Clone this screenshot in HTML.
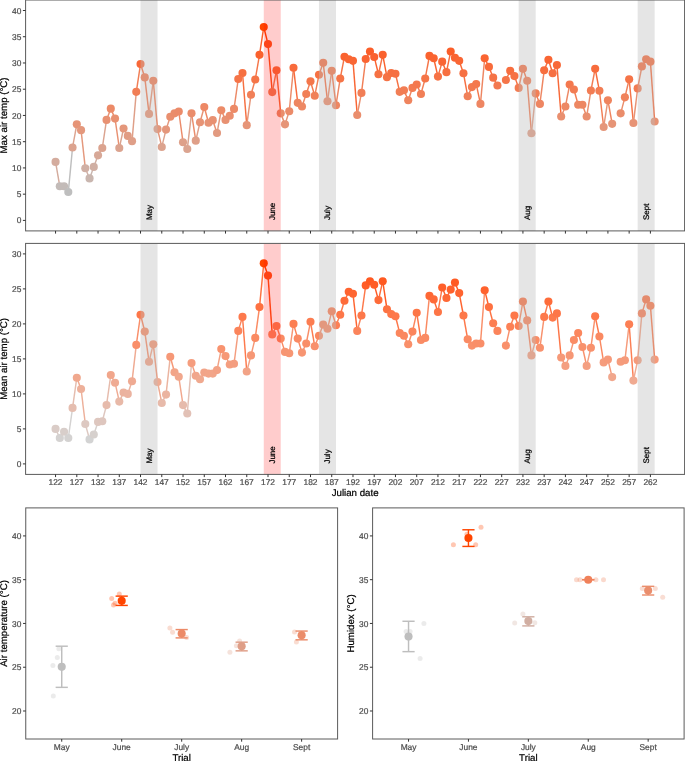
<!DOCTYPE html>
<html><head><meta charset="utf-8"><style>html,body{margin:0;padding:0;background:#fff;}svg{display:block;will-change:transform;text-rendering:geometricPrecision;}text[fill="#000"]{stroke:#000;stroke-width:.22px}text[fill="#4d4d4d"]{stroke:#4d4d4d;stroke-width:.22px}</style></head><body>
<svg width="685" height="761" viewBox="0 0 685 761" font-family="'Liberation Sans', sans-serif">
<rect x="0" y="0" width="685" height="761" fill="#fff"/>
<clipPath id="c0"><rect x="25.6" y="0" width="659" height="230.9"/></clipPath>
<g clip-path="url(#c0)">
<line x1="55.55" y1="161.89" x2="59.8" y2="186.29" stroke="#d4ac9e" stroke-width="1.45"/>
<line x1="59.8" y1="186.29" x2="64.05" y2="186.29" stroke="#c3bbb8" stroke-width="1.45"/>
<line x1="64.05" y1="186.29" x2="68.3" y2="192.07" stroke="#c3bbb8" stroke-width="1.45"/>
<line x1="68.3" y1="192.07" x2="72.55" y2="147.46" stroke="#bebebe" stroke-width="1.45"/>
<line x1="72.55" y1="147.46" x2="76.8" y2="124.37" stroke="#dca38f" stroke-width="1.45"/>
<line x1="76.8" y1="124.37" x2="81.05" y2="130.14" stroke="#e69477" stroke-width="1.45"/>
<line x1="81.05" y1="130.14" x2="85.3" y2="168.19" stroke="#e4987d" stroke-width="1.45"/>
<line x1="85.3" y1="168.19" x2="89.55" y2="178.42" stroke="#d0b0a5" stroke-width="1.45"/>
<line x1="89.55" y1="178.42" x2="93.79" y2="166.88" stroke="#c9b6af" stroke-width="1.45"/>
<line x1="93.79" y1="166.88" x2="98.04" y2="155.33" stroke="#d0afa3" stroke-width="1.45"/>
<line x1="98.04" y1="155.33" x2="102.29" y2="147.99" stroke="#d7a897" stroke-width="1.45"/>
<line x1="102.29" y1="147.99" x2="106.54" y2="119.91" stroke="#dba38f" stroke-width="1.45"/>
<line x1="106.54" y1="119.91" x2="110.79" y2="108.63" stroke="#e89172" stroke-width="1.45"/>
<line x1="110.79" y1="108.63" x2="115.04" y2="118.6" stroke="#ec8a67" stroke-width="1.45"/>
<line x1="115.04" y1="118.6" x2="119.29" y2="147.99" stroke="#e89071" stroke-width="1.45"/>
<line x1="119.29" y1="147.99" x2="123.54" y2="128.57" stroke="#dba38f" stroke-width="1.45"/>
<line x1="123.54" y1="128.57" x2="127.79" y2="135.92" stroke="#e4977b" stroke-width="1.45"/>
<line x1="127.79" y1="135.92" x2="132.03" y2="141.16" stroke="#e19c83" stroke-width="1.45"/>
<line x1="132.03" y1="141.16" x2="136.28" y2="91.84" stroke="#df9f88" stroke-width="1.45"/>
<line x1="136.28" y1="91.84" x2="140.53" y2="64.02" stroke="#f17e55" stroke-width="1.45"/>
<line x1="140.53" y1="64.02" x2="144.78" y2="77.4" stroke="#f86838" stroke-width="1.45"/>
<line x1="144.78" y1="77.4" x2="149.03" y2="113.88" stroke="#f57346" stroke-width="1.45"/>
<line x1="149.03" y1="113.88" x2="153.28" y2="80.81" stroke="#ea8d6c" stroke-width="1.45"/>
<line x1="153.28" y1="80.81" x2="157.53" y2="129.09" stroke="#f4764a" stroke-width="1.45"/>
<line x1="157.53" y1="129.09" x2="161.78" y2="146.94" stroke="#e4977c" stroke-width="1.45"/>
<line x1="161.78" y1="146.94" x2="166.03" y2="129.62" stroke="#dca38e" stroke-width="1.45"/>
<line x1="166.03" y1="129.62" x2="170.27" y2="116.76" stroke="#e4977c" stroke-width="1.45"/>
<line x1="170.27" y1="116.76" x2="174.52" y2="113.35" stroke="#e98f6f" stroke-width="1.45"/>
<line x1="174.52" y1="113.35" x2="178.77" y2="111.51" stroke="#ea8d6b" stroke-width="1.45"/>
<line x1="178.77" y1="111.51" x2="183.02" y2="142.21" stroke="#eb8b6a" stroke-width="1.45"/>
<line x1="183.02" y1="142.21" x2="187.27" y2="149.04" stroke="#dea089" stroke-width="1.45"/>
<line x1="187.27" y1="149.04" x2="191.52" y2="113.35" stroke="#dba490" stroke-width="1.45"/>
<line x1="191.52" y1="113.35" x2="195.77" y2="140.64" stroke="#ea8d6b" stroke-width="1.45"/>
<line x1="195.77" y1="140.64" x2="200.02" y2="122.27" stroke="#df9f88" stroke-width="1.45"/>
<line x1="200.02" y1="122.27" x2="204.27" y2="107.05" stroke="#e79375" stroke-width="1.45"/>
<line x1="204.27" y1="107.05" x2="208.51" y2="122.8" stroke="#ed8865" stroke-width="1.45"/>
<line x1="208.51" y1="122.8" x2="212.76" y2="120.17" stroke="#e79375" stroke-width="1.45"/>
<line x1="212.76" y1="120.17" x2="217.01" y2="133.03" stroke="#e89172" stroke-width="1.45"/>
<line x1="217.01" y1="133.03" x2="221.26" y2="110.2" stroke="#e29a80" stroke-width="1.45"/>
<line x1="221.26" y1="110.2" x2="225.51" y2="119.91" stroke="#ec8b68" stroke-width="1.45"/>
<line x1="225.51" y1="119.91" x2="229.76" y2="115.71" stroke="#e89172" stroke-width="1.45"/>
<line x1="229.76" y1="115.71" x2="234.01" y2="108.89" stroke="#ea8e6e" stroke-width="1.45"/>
<line x1="234.01" y1="108.89" x2="238.26" y2="78.98" stroke="#ec8a67" stroke-width="1.45"/>
<line x1="238.26" y1="78.98" x2="242.5" y2="72.94" stroke="#f57448" stroke-width="1.45"/>
<line x1="242.5" y1="72.94" x2="246.75" y2="125.16" stroke="#f67041" stroke-width="1.45"/>
<line x1="246.75" y1="125.16" x2="251" y2="94.72" stroke="#e69578" stroke-width="1.45"/>
<line x1="251" y1="94.72" x2="255.25" y2="79.5" stroke="#f18058" stroke-width="1.45"/>
<line x1="255.25" y1="79.5" x2="259.5" y2="54.84" stroke="#f57548" stroke-width="1.45"/>
<line x1="259.5" y1="54.84" x2="263.75" y2="27.03" stroke="#fa612d" stroke-width="1.45"/>
<line x1="263.75" y1="27.03" x2="268" y2="44.08" stroke="#ff4500" stroke-width="1.45"/>
<line x1="268" y1="44.08" x2="272.25" y2="92.1" stroke="#fc5720" stroke-width="1.45"/>
<line x1="272.25" y1="92.1" x2="276.5" y2="70.32" stroke="#f17e55" stroke-width="1.45"/>
<line x1="276.5" y1="70.32" x2="280.74" y2="113.35" stroke="#f76e3e" stroke-width="1.45"/>
<line x1="280.74" y1="113.35" x2="284.99" y2="124.37" stroke="#ea8d6b" stroke-width="1.45"/>
<line x1="284.99" y1="124.37" x2="289.24" y2="111.25" stroke="#e69477" stroke-width="1.45"/>
<line x1="289.24" y1="111.25" x2="293.49" y2="67.7" stroke="#eb8b69" stroke-width="1.45"/>
<line x1="293.49" y1="67.7" x2="297.74" y2="102.86" stroke="#f86b3c" stroke-width="1.45"/>
<line x1="297.74" y1="102.86" x2="301.99" y2="106.53" stroke="#ee8661" stroke-width="1.45"/>
<line x1="301.99" y1="106.53" x2="306.24" y2="93.93" stroke="#ed8864" stroke-width="1.45"/>
<line x1="306.24" y1="93.93" x2="310.49" y2="81.34" stroke="#f17f57" stroke-width="1.45"/>
<line x1="310.49" y1="81.34" x2="314.74" y2="95.77" stroke="#f4764a" stroke-width="1.45"/>
<line x1="314.74" y1="95.77" x2="318.98" y2="74.78" stroke="#f08159" stroke-width="1.45"/>
<line x1="318.98" y1="74.78" x2="323.23" y2="62.71" stroke="#f67143" stroke-width="1.45"/>
<line x1="323.23" y1="62.71" x2="327.48" y2="101.28" stroke="#f96736" stroke-width="1.45"/>
<line x1="327.48" y1="101.28" x2="331.73" y2="70.84" stroke="#ef845f" stroke-width="1.45"/>
<line x1="331.73" y1="70.84" x2="335.98" y2="105.22" stroke="#f76e3f" stroke-width="1.45"/>
<line x1="335.98" y1="105.22" x2="340.23" y2="78.45" stroke="#ed8763" stroke-width="1.45"/>
<line x1="340.23" y1="78.45" x2="344.48" y2="56.68" stroke="#f57447" stroke-width="1.45"/>
<line x1="344.48" y1="56.68" x2="348.73" y2="59.3" stroke="#fa622f" stroke-width="1.45"/>
<line x1="348.73" y1="59.3" x2="352.98" y2="60.87" stroke="#f96532" stroke-width="1.45"/>
<line x1="352.98" y1="60.87" x2="357.22" y2="114.93" stroke="#f96634" stroke-width="1.45"/>
<line x1="357.22" y1="114.93" x2="361.47" y2="92.88" stroke="#ea8e6d" stroke-width="1.45"/>
<line x1="361.47" y1="92.88" x2="365.72" y2="59.04" stroke="#f17e56" stroke-width="1.45"/>
<line x1="365.72" y1="59.04" x2="369.97" y2="51.43" stroke="#fa6432" stroke-width="1.45"/>
<line x1="369.97" y1="51.43" x2="374.22" y2="56.94" stroke="#fb5e29" stroke-width="1.45"/>
<line x1="374.22" y1="56.94" x2="378.47" y2="74.26" stroke="#fa6230" stroke-width="1.45"/>
<line x1="378.47" y1="74.26" x2="382.72" y2="54.84" stroke="#f67143" stroke-width="1.45"/>
<line x1="382.72" y1="54.84" x2="386.97" y2="77.14" stroke="#fa612d" stroke-width="1.45"/>
<line x1="386.97" y1="77.14" x2="391.22" y2="72.94" stroke="#f57346" stroke-width="1.45"/>
<line x1="391.22" y1="72.94" x2="395.46" y2="73.73" stroke="#f67041" stroke-width="1.45"/>
<line x1="395.46" y1="73.73" x2="399.71" y2="91.84" stroke="#f67042" stroke-width="1.45"/>
<line x1="399.71" y1="91.84" x2="403.96" y2="90.26" stroke="#f17e55" stroke-width="1.45"/>
<line x1="403.96" y1="90.26" x2="408.21" y2="100.23" stroke="#f27d54" stroke-width="1.45"/>
<line x1="408.21" y1="100.23" x2="412.46" y2="87.9" stroke="#ef845e" stroke-width="1.45"/>
<line x1="412.46" y1="87.9" x2="416.71" y2="84.49" stroke="#f37b51" stroke-width="1.45"/>
<line x1="416.71" y1="84.49" x2="420.96" y2="93.93" stroke="#f4784e" stroke-width="1.45"/>
<line x1="420.96" y1="93.93" x2="425.21" y2="78.45" stroke="#f17f57" stroke-width="1.45"/>
<line x1="425.21" y1="78.45" x2="429.46" y2="55.89" stroke="#f57447" stroke-width="1.45"/>
<line x1="429.46" y1="55.89" x2="433.7" y2="58.25" stroke="#fa622e" stroke-width="1.45"/>
<line x1="433.7" y1="58.25" x2="437.95" y2="76.62" stroke="#fa6431" stroke-width="1.45"/>
<line x1="437.95" y1="76.62" x2="442.2" y2="61.66" stroke="#f67245" stroke-width="1.45"/>
<line x1="442.2" y1="61.66" x2="446.45" y2="72.16" stroke="#f96635" stroke-width="1.45"/>
<line x1="446.45" y1="72.16" x2="450.7" y2="51.43" stroke="#f76f40" stroke-width="1.45"/>
<line x1="450.7" y1="51.43" x2="454.95" y2="57.73" stroke="#fb5e29" stroke-width="1.45"/>
<line x1="454.95" y1="57.73" x2="459.2" y2="60.87" stroke="#fa6331" stroke-width="1.45"/>
<line x1="459.2" y1="60.87" x2="463.45" y2="73.21" stroke="#f96634" stroke-width="1.45"/>
<line x1="463.45" y1="73.21" x2="467.7" y2="96.3" stroke="#f67042" stroke-width="1.45"/>
<line x1="467.7" y1="96.3" x2="471.94" y2="87.11" stroke="#f0815a" stroke-width="1.45"/>
<line x1="471.94" y1="87.11" x2="476.19" y2="83.96" stroke="#f37a50" stroke-width="1.45"/>
<line x1="476.19" y1="83.96" x2="480.44" y2="103.91" stroke="#f4784d" stroke-width="1.45"/>
<line x1="480.44" y1="103.91" x2="484.69" y2="58.25" stroke="#ee8662" stroke-width="1.45"/>
<line x1="484.69" y1="58.25" x2="488.94" y2="66.91" stroke="#fa6431" stroke-width="1.45"/>
<line x1="488.94" y1="66.91" x2="493.19" y2="77.67" stroke="#f86b3b" stroke-width="1.45"/>
<line x1="493.19" y1="77.67" x2="497.44" y2="85.54" stroke="#f57346" stroke-width="1.45"/>
<line x1="505.93" y1="80.03" x2="510.18" y2="70.84" stroke="#f57549" stroke-width="1.45"/>
<line x1="510.18" y1="70.84" x2="514.43" y2="76.09" stroke="#f76e3f" stroke-width="1.45"/>
<line x1="514.43" y1="76.09" x2="518.68" y2="87.9" stroke="#f67245" stroke-width="1.45"/>
<line x1="518.68" y1="87.9" x2="522.93" y2="68.75" stroke="#f37b51" stroke-width="1.45"/>
<line x1="522.93" y1="68.75" x2="527.18" y2="80.81" stroke="#f76c3d" stroke-width="1.45"/>
<line x1="527.18" y1="80.81" x2="531.43" y2="133.29" stroke="#f4764a" stroke-width="1.45"/>
<line x1="531.43" y1="133.29" x2="535.68" y2="93.41" stroke="#e29a80" stroke-width="1.45"/>
<line x1="535.68" y1="93.41" x2="539.93" y2="103.91" stroke="#f17f57" stroke-width="1.45"/>
<line x1="539.93" y1="103.91" x2="544.17" y2="70.32" stroke="#ee8662" stroke-width="1.45"/>
<line x1="544.17" y1="70.32" x2="548.42" y2="59.82" stroke="#f76e3e" stroke-width="1.45"/>
<line x1="548.42" y1="59.82" x2="552.67" y2="73.21" stroke="#f96533" stroke-width="1.45"/>
<line x1="552.67" y1="73.21" x2="556.92" y2="65.07" stroke="#f67042" stroke-width="1.45"/>
<line x1="556.92" y1="65.07" x2="561.17" y2="116.5" stroke="#f86939" stroke-width="1.45"/>
<line x1="561.17" y1="116.5" x2="565.42" y2="106.53" stroke="#e98f6f" stroke-width="1.45"/>
<line x1="565.42" y1="106.53" x2="569.67" y2="84.49" stroke="#ed8864" stroke-width="1.45"/>
<line x1="569.67" y1="84.49" x2="573.92" y2="89.47" stroke="#f4784e" stroke-width="1.45"/>
<line x1="573.92" y1="89.47" x2="578.17" y2="104.69" stroke="#f27c53" stroke-width="1.45"/>
<line x1="578.17" y1="104.69" x2="582.41" y2="104.69" stroke="#ed8762" stroke-width="1.45"/>
<line x1="582.41" y1="104.69" x2="586.66" y2="116.5" stroke="#ed8762" stroke-width="1.45"/>
<line x1="586.66" y1="116.5" x2="590.91" y2="90.52" stroke="#e98f6f" stroke-width="1.45"/>
<line x1="590.91" y1="90.52" x2="595.16" y2="68.75" stroke="#f27d54" stroke-width="1.45"/>
<line x1="595.16" y1="68.75" x2="599.41" y2="90.79" stroke="#f76c3d" stroke-width="1.45"/>
<line x1="599.41" y1="90.79" x2="603.66" y2="126.99" stroke="#f27d54" stroke-width="1.45"/>
<line x1="603.66" y1="126.99" x2="607.91" y2="100.23" stroke="#e5967a" stroke-width="1.45"/>
<line x1="607.91" y1="100.23" x2="612.16" y2="123.85" stroke="#ef845e" stroke-width="1.45"/>
<line x1="620.65" y1="113.35" x2="624.9" y2="97.35" stroke="#ea8d6b" stroke-width="1.45"/>
<line x1="624.9" y1="97.35" x2="629.15" y2="79.24" stroke="#f0825b" stroke-width="1.45"/>
<line x1="629.15" y1="79.24" x2="633.4" y2="123.06" stroke="#f57448" stroke-width="1.45"/>
<line x1="633.4" y1="123.06" x2="637.65" y2="88.42" stroke="#e79375" stroke-width="1.45"/>
<line x1="637.65" y1="88.42" x2="641.9" y2="66.38" stroke="#f27b52" stroke-width="1.45"/>
<line x1="641.9" y1="66.38" x2="646.15" y2="59.3" stroke="#f86a3a" stroke-width="1.45"/>
<line x1="646.15" y1="59.3" x2="650.4" y2="61.66" stroke="#f96532" stroke-width="1.45"/>
<line x1="650.4" y1="61.66" x2="654.65" y2="121.48" stroke="#f96635" stroke-width="1.45"/>
<circle cx="55.55" cy="161.89" r="4.05" fill="#d4ac9e"/>
<circle cx="59.8" cy="186.29" r="4.05" fill="#c3bbb8"/>
<circle cx="64.05" cy="186.29" r="4.05" fill="#c3bbb8"/>
<circle cx="68.3" cy="192.07" r="4.05" fill="#bebebe"/>
<circle cx="72.55" cy="147.46" r="4.05" fill="#dca38f"/>
<circle cx="76.8" cy="124.37" r="4.05" fill="#e69477"/>
<circle cx="81.05" cy="130.14" r="4.05" fill="#e4987d"/>
<circle cx="85.3" cy="168.19" r="4.05" fill="#d0b0a5"/>
<circle cx="89.55" cy="178.42" r="4.05" fill="#c9b6af"/>
<circle cx="93.79" cy="166.88" r="4.05" fill="#d0afa3"/>
<circle cx="98.04" cy="155.33" r="4.05" fill="#d7a897"/>
<circle cx="102.29" cy="147.99" r="4.05" fill="#dba38f"/>
<circle cx="106.54" cy="119.91" r="4.05" fill="#e89172"/>
<circle cx="110.79" cy="108.63" r="4.05" fill="#ec8a67"/>
<circle cx="115.04" cy="118.6" r="4.05" fill="#e89071"/>
<circle cx="119.29" cy="147.99" r="4.05" fill="#dba38f"/>
<circle cx="123.54" cy="128.57" r="4.05" fill="#e4977b"/>
<circle cx="127.79" cy="135.92" r="4.05" fill="#e19c83"/>
<circle cx="132.03" cy="141.16" r="4.05" fill="#df9f88"/>
<circle cx="136.28" cy="91.84" r="4.05" fill="#f17e55"/>
<circle cx="140.53" cy="64.02" r="4.05" fill="#f86838"/>
<circle cx="144.78" cy="77.4" r="4.05" fill="#f57346"/>
<circle cx="149.03" cy="113.88" r="4.05" fill="#ea8d6c"/>
<circle cx="153.28" cy="80.81" r="4.05" fill="#f4764a"/>
<circle cx="157.53" cy="129.09" r="4.05" fill="#e4977c"/>
<circle cx="161.78" cy="146.94" r="4.05" fill="#dca38e"/>
<circle cx="166.03" cy="129.62" r="4.05" fill="#e4977c"/>
<circle cx="170.27" cy="116.76" r="4.05" fill="#e98f6f"/>
<circle cx="174.52" cy="113.35" r="4.05" fill="#ea8d6b"/>
<circle cx="178.77" cy="111.51" r="4.05" fill="#eb8b6a"/>
<circle cx="183.02" cy="142.21" r="4.05" fill="#dea089"/>
<circle cx="187.27" cy="149.04" r="4.05" fill="#dba490"/>
<circle cx="191.52" cy="113.35" r="4.05" fill="#ea8d6b"/>
<circle cx="195.77" cy="140.64" r="4.05" fill="#df9f88"/>
<circle cx="200.02" cy="122.27" r="4.05" fill="#e79375"/>
<circle cx="204.27" cy="107.05" r="4.05" fill="#ed8865"/>
<circle cx="208.51" cy="122.8" r="4.05" fill="#e79375"/>
<circle cx="212.76" cy="120.17" r="4.05" fill="#e89172"/>
<circle cx="217.01" cy="133.03" r="4.05" fill="#e29a80"/>
<circle cx="221.26" cy="110.2" r="4.05" fill="#ec8b68"/>
<circle cx="225.51" cy="119.91" r="4.05" fill="#e89172"/>
<circle cx="229.76" cy="115.71" r="4.05" fill="#ea8e6e"/>
<circle cx="234.01" cy="108.89" r="4.05" fill="#ec8a67"/>
<circle cx="238.26" cy="78.98" r="4.05" fill="#f57448"/>
<circle cx="242.5" cy="72.94" r="4.05" fill="#f67041"/>
<circle cx="246.75" cy="125.16" r="4.05" fill="#e69578"/>
<circle cx="251" cy="94.72" r="4.05" fill="#f18058"/>
<circle cx="255.25" cy="79.5" r="4.05" fill="#f57548"/>
<circle cx="259.5" cy="54.84" r="4.05" fill="#fa612d"/>
<circle cx="263.75" cy="27.03" r="4.05" fill="#ff4500"/>
<circle cx="268" cy="44.08" r="4.05" fill="#fc5720"/>
<circle cx="272.25" cy="92.1" r="4.05" fill="#f17e55"/>
<circle cx="276.5" cy="70.32" r="4.05" fill="#f76e3e"/>
<circle cx="280.74" cy="113.35" r="4.05" fill="#ea8d6b"/>
<circle cx="284.99" cy="124.37" r="4.05" fill="#e69477"/>
<circle cx="289.24" cy="111.25" r="4.05" fill="#eb8b69"/>
<circle cx="293.49" cy="67.7" r="4.05" fill="#f86b3c"/>
<circle cx="297.74" cy="102.86" r="4.05" fill="#ee8661"/>
<circle cx="301.99" cy="106.53" r="4.05" fill="#ed8864"/>
<circle cx="306.24" cy="93.93" r="4.05" fill="#f17f57"/>
<circle cx="310.49" cy="81.34" r="4.05" fill="#f4764a"/>
<circle cx="314.74" cy="95.77" r="4.05" fill="#f08159"/>
<circle cx="318.98" cy="74.78" r="4.05" fill="#f67143"/>
<circle cx="323.23" cy="62.71" r="4.05" fill="#f96736"/>
<circle cx="327.48" cy="101.28" r="4.05" fill="#ef845f"/>
<circle cx="331.73" cy="70.84" r="4.05" fill="#f76e3f"/>
<circle cx="335.98" cy="105.22" r="4.05" fill="#ed8763"/>
<circle cx="340.23" cy="78.45" r="4.05" fill="#f57447"/>
<circle cx="344.48" cy="56.68" r="4.05" fill="#fa622f"/>
<circle cx="348.73" cy="59.3" r="4.05" fill="#f96532"/>
<circle cx="352.98" cy="60.87" r="4.05" fill="#f96634"/>
<circle cx="357.22" cy="114.93" r="4.05" fill="#ea8e6d"/>
<circle cx="361.47" cy="92.88" r="4.05" fill="#f17e56"/>
<circle cx="365.72" cy="59.04" r="4.05" fill="#fa6432"/>
<circle cx="369.97" cy="51.43" r="4.05" fill="#fb5e29"/>
<circle cx="374.22" cy="56.94" r="4.05" fill="#fa6230"/>
<circle cx="378.47" cy="74.26" r="4.05" fill="#f67143"/>
<circle cx="382.72" cy="54.84" r="4.05" fill="#fa612d"/>
<circle cx="386.97" cy="77.14" r="4.05" fill="#f57346"/>
<circle cx="391.22" cy="72.94" r="4.05" fill="#f67041"/>
<circle cx="395.46" cy="73.73" r="4.05" fill="#f67042"/>
<circle cx="399.71" cy="91.84" r="4.05" fill="#f17e55"/>
<circle cx="403.96" cy="90.26" r="4.05" fill="#f27d54"/>
<circle cx="408.21" cy="100.23" r="4.05" fill="#ef845e"/>
<circle cx="412.46" cy="87.9" r="4.05" fill="#f37b51"/>
<circle cx="416.71" cy="84.49" r="4.05" fill="#f4784e"/>
<circle cx="420.96" cy="93.93" r="4.05" fill="#f17f57"/>
<circle cx="425.21" cy="78.45" r="4.05" fill="#f57447"/>
<circle cx="429.46" cy="55.89" r="4.05" fill="#fa622e"/>
<circle cx="433.7" cy="58.25" r="4.05" fill="#fa6431"/>
<circle cx="437.95" cy="76.62" r="4.05" fill="#f67245"/>
<circle cx="442.2" cy="61.66" r="4.05" fill="#f96635"/>
<circle cx="446.45" cy="72.16" r="4.05" fill="#f76f40"/>
<circle cx="450.7" cy="51.43" r="4.05" fill="#fb5e29"/>
<circle cx="454.95" cy="57.73" r="4.05" fill="#fa6331"/>
<circle cx="459.2" cy="60.87" r="4.05" fill="#f96634"/>
<circle cx="463.45" cy="73.21" r="4.05" fill="#f67042"/>
<circle cx="467.7" cy="96.3" r="4.05" fill="#f0815a"/>
<circle cx="471.94" cy="87.11" r="4.05" fill="#f37a50"/>
<circle cx="476.19" cy="83.96" r="4.05" fill="#f4784d"/>
<circle cx="480.44" cy="103.91" r="4.05" fill="#ee8662"/>
<circle cx="484.69" cy="58.25" r="4.05" fill="#fa6431"/>
<circle cx="488.94" cy="66.91" r="4.05" fill="#f86b3b"/>
<circle cx="493.19" cy="77.67" r="4.05" fill="#f57346"/>
<circle cx="497.44" cy="85.54" r="4.05" fill="#f3794f"/>
<circle cx="505.93" cy="80.03" r="4.05" fill="#f57549"/>
<circle cx="510.18" cy="70.84" r="4.05" fill="#f76e3f"/>
<circle cx="514.43" cy="76.09" r="4.05" fill="#f67245"/>
<circle cx="518.68" cy="87.9" r="4.05" fill="#f37b51"/>
<circle cx="522.93" cy="68.75" r="4.05" fill="#f76c3d"/>
<circle cx="527.18" cy="80.81" r="4.05" fill="#f4764a"/>
<circle cx="531.43" cy="133.29" r="4.05" fill="#e29a80"/>
<circle cx="535.68" cy="93.41" r="4.05" fill="#f17f57"/>
<circle cx="539.93" cy="103.91" r="4.05" fill="#ee8662"/>
<circle cx="544.17" cy="70.32" r="4.05" fill="#f76e3e"/>
<circle cx="548.42" cy="59.82" r="4.05" fill="#f96533"/>
<circle cx="552.67" cy="73.21" r="4.05" fill="#f67042"/>
<circle cx="556.92" cy="65.07" r="4.05" fill="#f86939"/>
<circle cx="561.17" cy="116.5" r="4.05" fill="#e98f6f"/>
<circle cx="565.42" cy="106.53" r="4.05" fill="#ed8864"/>
<circle cx="569.67" cy="84.49" r="4.05" fill="#f4784e"/>
<circle cx="573.92" cy="89.47" r="4.05" fill="#f27c53"/>
<circle cx="578.17" cy="104.69" r="4.05" fill="#ed8762"/>
<circle cx="582.41" cy="104.69" r="4.05" fill="#ed8762"/>
<circle cx="586.66" cy="116.5" r="4.05" fill="#e98f6f"/>
<circle cx="590.91" cy="90.52" r="4.05" fill="#f27d54"/>
<circle cx="595.16" cy="68.75" r="4.05" fill="#f76c3d"/>
<circle cx="599.41" cy="90.79" r="4.05" fill="#f27d54"/>
<circle cx="603.66" cy="126.99" r="4.05" fill="#e5967a"/>
<circle cx="607.91" cy="100.23" r="4.05" fill="#ef845e"/>
<circle cx="612.16" cy="123.85" r="4.05" fill="#e69476"/>
<circle cx="620.65" cy="113.35" r="4.05" fill="#ea8d6b"/>
<circle cx="624.9" cy="97.35" r="4.05" fill="#f0825b"/>
<circle cx="629.15" cy="79.24" r="4.05" fill="#f57448"/>
<circle cx="633.4" cy="123.06" r="4.05" fill="#e79375"/>
<circle cx="637.65" cy="88.42" r="4.05" fill="#f27b52"/>
<circle cx="641.9" cy="66.38" r="4.05" fill="#f86a3a"/>
<circle cx="646.15" cy="59.3" r="4.05" fill="#f96532"/>
<circle cx="650.4" cy="61.66" r="4.05" fill="#f96635"/>
<circle cx="654.65" cy="121.48" r="4.05" fill="#e79274"/>
<rect x="140.53" y="0" width="17" height="230.9" fill="rgba(190,190,190,0.4)"/>
<rect x="263.75" y="0" width="17" height="230.9" fill="rgba(255,0,0,0.2)"/>
<rect x="318.98" y="0" width="17" height="230.9" fill="rgba(190,190,190,0.4)"/>
<rect x="518.68" y="0" width="17" height="230.9" fill="rgba(190,190,190,0.4)"/>
<rect x="637.65" y="0" width="17" height="230.9" fill="rgba(190,190,190,0.4)"/>
<text transform="translate(151.83,220.1) rotate(-90)" font-size="8.0" fill="#000">May</text>
<text transform="translate(275.05,220.1) rotate(-90)" font-size="8.0" fill="#000">June</text>
<text transform="translate(330.28,220.1) rotate(-90)" font-size="8.0" fill="#000">July</text>
<text transform="translate(529.98,220.1) rotate(-90)" font-size="8.0" fill="#000">Aug</text>
<text transform="translate(648.95,220.1) rotate(-90)" font-size="8.0" fill="#000">Sept</text>
</g>
<rect x="25.6" y="0" width="659" height="230.9" fill="none" stroke="#5a5a5a" stroke-width="1"/>
<line x1="22.9" y1="220.4" x2="25.6" y2="220.4" stroke="#333333" stroke-width="1"/>
<text x="21.4" y="223.45" font-size="8.4" fill="#4d4d4d" text-anchor="end">0</text>
<line x1="22.9" y1="194.17" x2="25.6" y2="194.17" stroke="#333333" stroke-width="1"/>
<text x="21.4" y="197.22" font-size="8.4" fill="#4d4d4d" text-anchor="end">5</text>
<line x1="22.9" y1="167.93" x2="25.6" y2="167.93" stroke="#333333" stroke-width="1"/>
<text x="21.4" y="170.98" font-size="8.4" fill="#4d4d4d" text-anchor="end">10</text>
<line x1="22.9" y1="141.69" x2="25.6" y2="141.69" stroke="#333333" stroke-width="1"/>
<text x="21.4" y="144.74" font-size="8.4" fill="#4d4d4d" text-anchor="end">15</text>
<line x1="22.9" y1="115.45" x2="25.6" y2="115.45" stroke="#333333" stroke-width="1"/>
<text x="21.4" y="118.5" font-size="8.4" fill="#4d4d4d" text-anchor="end">20</text>
<line x1="22.9" y1="89.21" x2="25.6" y2="89.21" stroke="#333333" stroke-width="1"/>
<text x="21.4" y="92.26" font-size="8.4" fill="#4d4d4d" text-anchor="end">25</text>
<line x1="22.9" y1="62.97" x2="25.6" y2="62.97" stroke="#333333" stroke-width="1"/>
<text x="21.4" y="66.02" font-size="8.4" fill="#4d4d4d" text-anchor="end">30</text>
<line x1="22.9" y1="36.73" x2="25.6" y2="36.73" stroke="#333333" stroke-width="1"/>
<text x="21.4" y="39.78" font-size="8.4" fill="#4d4d4d" text-anchor="end">35</text>
<line x1="22.9" y1="10.5" x2="25.6" y2="10.5" stroke="#333333" stroke-width="1"/>
<text x="21.4" y="13.55" font-size="8.4" fill="#4d4d4d" text-anchor="end">40</text>
<line x1="55.55" y1="230.9" x2="55.55" y2="233.6" stroke="#333333" stroke-width="1"/>
<line x1="76.8" y1="230.9" x2="76.8" y2="233.6" stroke="#333333" stroke-width="1"/>
<line x1="98.04" y1="230.9" x2="98.04" y2="233.6" stroke="#333333" stroke-width="1"/>
<line x1="119.29" y1="230.9" x2="119.29" y2="233.6" stroke="#333333" stroke-width="1"/>
<line x1="140.53" y1="230.9" x2="140.53" y2="233.6" stroke="#333333" stroke-width="1"/>
<line x1="161.78" y1="230.9" x2="161.78" y2="233.6" stroke="#333333" stroke-width="1"/>
<line x1="183.02" y1="230.9" x2="183.02" y2="233.6" stroke="#333333" stroke-width="1"/>
<line x1="204.27" y1="230.9" x2="204.27" y2="233.6" stroke="#333333" stroke-width="1"/>
<line x1="225.51" y1="230.9" x2="225.51" y2="233.6" stroke="#333333" stroke-width="1"/>
<line x1="246.75" y1="230.9" x2="246.75" y2="233.6" stroke="#333333" stroke-width="1"/>
<line x1="268" y1="230.9" x2="268" y2="233.6" stroke="#333333" stroke-width="1"/>
<line x1="289.24" y1="230.9" x2="289.24" y2="233.6" stroke="#333333" stroke-width="1"/>
<line x1="310.49" y1="230.9" x2="310.49" y2="233.6" stroke="#333333" stroke-width="1"/>
<line x1="331.73" y1="230.9" x2="331.73" y2="233.6" stroke="#333333" stroke-width="1"/>
<line x1="352.98" y1="230.9" x2="352.98" y2="233.6" stroke="#333333" stroke-width="1"/>
<line x1="374.22" y1="230.9" x2="374.22" y2="233.6" stroke="#333333" stroke-width="1"/>
<line x1="395.46" y1="230.9" x2="395.46" y2="233.6" stroke="#333333" stroke-width="1"/>
<line x1="416.71" y1="230.9" x2="416.71" y2="233.6" stroke="#333333" stroke-width="1"/>
<line x1="437.95" y1="230.9" x2="437.95" y2="233.6" stroke="#333333" stroke-width="1"/>
<line x1="459.2" y1="230.9" x2="459.2" y2="233.6" stroke="#333333" stroke-width="1"/>
<line x1="480.44" y1="230.9" x2="480.44" y2="233.6" stroke="#333333" stroke-width="1"/>
<line x1="501.69" y1="230.9" x2="501.69" y2="233.6" stroke="#333333" stroke-width="1"/>
<line x1="522.93" y1="230.9" x2="522.93" y2="233.6" stroke="#333333" stroke-width="1"/>
<line x1="544.17" y1="230.9" x2="544.17" y2="233.6" stroke="#333333" stroke-width="1"/>
<line x1="565.42" y1="230.9" x2="565.42" y2="233.6" stroke="#333333" stroke-width="1"/>
<line x1="586.66" y1="230.9" x2="586.66" y2="233.6" stroke="#333333" stroke-width="1"/>
<line x1="607.91" y1="230.9" x2="607.91" y2="233.6" stroke="#333333" stroke-width="1"/>
<line x1="629.15" y1="230.9" x2="629.15" y2="233.6" stroke="#333333" stroke-width="1"/>
<line x1="650.4" y1="230.9" x2="650.4" y2="233.6" stroke="#333333" stroke-width="1"/>
<text transform="translate(7.1,115.45) rotate(-90)" font-size="9.7" fill="#000" text-anchor="middle">Max air temp (°C)</text>
<clipPath id="c243"><rect x="25.6" y="243.4" width="659" height="231"/></clipPath>
<g clip-path="url(#c243)">
<line x1="55.55" y1="428.9" x2="59.8" y2="438" stroke="#daccc7" stroke-width="1.45"/>
<line x1="59.8" y1="438" x2="64.05" y2="431.7" stroke="#d4d2d1" stroke-width="1.45"/>
<line x1="64.05" y1="431.7" x2="68.3" y2="438" stroke="#d8ceca" stroke-width="1.45"/>
<line x1="68.3" y1="438" x2="72.55" y2="407.9" stroke="#d4d2d1" stroke-width="1.45"/>
<line x1="72.55" y1="407.9" x2="76.8" y2="377.8" stroke="#e5bdaf" stroke-width="1.45"/>
<line x1="76.8" y1="377.8" x2="81.05" y2="389" stroke="#f0a88e" stroke-width="1.45"/>
<line x1="81.05" y1="389" x2="85.3" y2="424" stroke="#edb09a" stroke-width="1.45"/>
<line x1="85.3" y1="424" x2="89.55" y2="439.4" stroke="#ddc8c1" stroke-width="1.45"/>
<line x1="89.55" y1="439.4" x2="93.79" y2="434.5" stroke="#d3d3d3" stroke-width="1.45"/>
<line x1="93.79" y1="434.5" x2="98.04" y2="421.9" stroke="#d6d0cd" stroke-width="1.45"/>
<line x1="98.04" y1="421.9" x2="102.29" y2="421.2" stroke="#dec7bf" stroke-width="1.45"/>
<line x1="102.29" y1="421.2" x2="106.54" y2="405.1" stroke="#dec6be" stroke-width="1.45"/>
<line x1="106.54" y1="405.1" x2="110.79" y2="375" stroke="#e6bbac" stroke-width="1.45"/>
<line x1="110.79" y1="375" x2="115.04" y2="382.7" stroke="#f1a68b" stroke-width="1.45"/>
<line x1="115.04" y1="382.7" x2="119.29" y2="401.6" stroke="#efab93" stroke-width="1.45"/>
<line x1="119.29" y1="401.6" x2="123.54" y2="392.5" stroke="#e8b9a8" stroke-width="1.45"/>
<line x1="123.54" y1="392.5" x2="127.79" y2="393.9" stroke="#ebb29e" stroke-width="1.45"/>
<line x1="127.79" y1="393.9" x2="132.03" y2="381.3" stroke="#ebb3a0" stroke-width="1.45"/>
<line x1="132.03" y1="381.3" x2="136.28" y2="344.9" stroke="#efaa92" stroke-width="1.45"/>
<line x1="136.28" y1="344.9" x2="140.53" y2="314.8" stroke="#f98f6a" stroke-width="1.45"/>
<line x1="140.53" y1="314.8" x2="144.78" y2="331.6" stroke="#fd7749" stroke-width="1.45"/>
<line x1="144.78" y1="331.6" x2="149.03" y2="361.7" stroke="#fb855c" stroke-width="1.45"/>
<line x1="149.03" y1="361.7" x2="153.28" y2="344.2" stroke="#f59c7c" stroke-width="1.45"/>
<line x1="153.28" y1="344.2" x2="157.53" y2="382" stroke="#f98f69" stroke-width="1.45"/>
<line x1="157.53" y1="382" x2="161.78" y2="403" stroke="#efab92" stroke-width="1.45"/>
<line x1="161.78" y1="403" x2="166.03" y2="394.6" stroke="#e7baaa" stroke-width="1.45"/>
<line x1="166.03" y1="394.6" x2="170.27" y2="356.8" stroke="#ebb4a0" stroke-width="1.45"/>
<line x1="170.27" y1="356.8" x2="174.52" y2="372.2" stroke="#f69877" stroke-width="1.45"/>
<line x1="174.52" y1="372.2" x2="178.77" y2="376.75" stroke="#f2a488" stroke-width="1.45"/>
<line x1="178.77" y1="376.75" x2="183.02" y2="405.1" stroke="#f1a78d" stroke-width="1.45"/>
<line x1="183.02" y1="405.1" x2="187.27" y2="413.5" stroke="#e6bbac" stroke-width="1.45"/>
<line x1="187.27" y1="413.5" x2="191.52" y2="363.1" stroke="#e2c1b6" stroke-width="1.45"/>
<line x1="191.52" y1="363.1" x2="195.77" y2="375.7" stroke="#f59d7e" stroke-width="1.45"/>
<line x1="195.77" y1="375.7" x2="200.02" y2="379.2" stroke="#f1a68c" stroke-width="1.45"/>
<line x1="200.02" y1="379.2" x2="204.27" y2="372.55" stroke="#f0a98f" stroke-width="1.45"/>
<line x1="204.27" y1="372.55" x2="208.51" y2="373.6" stroke="#f2a488" stroke-width="1.45"/>
<line x1="208.51" y1="373.6" x2="212.76" y2="373.6" stroke="#f2a589" stroke-width="1.45"/>
<line x1="212.76" y1="373.6" x2="217.01" y2="370.1" stroke="#f2a589" stroke-width="1.45"/>
<line x1="217.01" y1="370.1" x2="221.26" y2="349.1" stroke="#f3a285" stroke-width="1.45"/>
<line x1="221.26" y1="349.1" x2="225.51" y2="356.1" stroke="#f8936f" stroke-width="1.45"/>
<line x1="225.51" y1="356.1" x2="229.76" y2="364.5" stroke="#f69876" stroke-width="1.45"/>
<line x1="229.76" y1="364.5" x2="234.01" y2="363.8" stroke="#f49e7f" stroke-width="1.45"/>
<line x1="234.01" y1="363.8" x2="238.26" y2="330.9" stroke="#f49d7f" stroke-width="1.45"/>
<line x1="238.26" y1="330.9" x2="242.5" y2="316.9" stroke="#fb845b" stroke-width="1.45"/>
<line x1="242.5" y1="316.9" x2="246.75" y2="371.5" stroke="#fd794c" stroke-width="1.45"/>
<line x1="246.75" y1="371.5" x2="251" y2="355.4" stroke="#f2a387" stroke-width="1.45"/>
<line x1="251" y1="355.4" x2="255.25" y2="337.9" stroke="#f69775" stroke-width="1.45"/>
<line x1="255.25" y1="337.9" x2="259.5" y2="307.1" stroke="#fa8a62" stroke-width="1.45"/>
<line x1="259.5" y1="307.1" x2="263.75" y2="263.35" stroke="#fe7141" stroke-width="1.45"/>
<line x1="263.75" y1="263.35" x2="268" y2="275.6" stroke="#ff4500" stroke-width="1.45"/>
<line x1="268" y1="275.6" x2="272.25" y2="334.4" stroke="#ff5319" stroke-width="1.45"/>
<line x1="272.25" y1="334.4" x2="276.5" y2="326" stroke="#fa875f" stroke-width="1.45"/>
<line x1="276.5" y1="326" x2="280.74" y2="338.6" stroke="#fc8155" stroke-width="1.45"/>
<line x1="280.74" y1="338.6" x2="284.99" y2="351.9" stroke="#fa8a63" stroke-width="1.45"/>
<line x1="284.99" y1="351.9" x2="289.24" y2="353.3" stroke="#f79572" stroke-width="1.45"/>
<line x1="289.24" y1="353.3" x2="293.49" y2="323.9" stroke="#f79673" stroke-width="1.45"/>
<line x1="293.49" y1="323.9" x2="297.74" y2="338.6" stroke="#fc7f53" stroke-width="1.45"/>
<line x1="297.74" y1="338.6" x2="301.99" y2="352.6" stroke="#fa8a63" stroke-width="1.45"/>
<line x1="301.99" y1="352.6" x2="306.24" y2="343.5" stroke="#f79572" stroke-width="1.45"/>
<line x1="306.24" y1="343.5" x2="310.49" y2="321.8" stroke="#f98e68" stroke-width="1.45"/>
<line x1="310.49" y1="321.8" x2="314.74" y2="346.3" stroke="#fc7d51" stroke-width="1.45"/>
<line x1="314.74" y1="346.3" x2="318.98" y2="335.8" stroke="#f8906c" stroke-width="1.45"/>
<line x1="318.98" y1="335.8" x2="323.23" y2="324.6" stroke="#fa8860" stroke-width="1.45"/>
<line x1="323.23" y1="324.6" x2="327.48" y2="328.8" stroke="#fc7f54" stroke-width="1.45"/>
<line x1="327.48" y1="328.8" x2="331.73" y2="311.3" stroke="#fb8359" stroke-width="1.45"/>
<line x1="331.73" y1="311.3" x2="335.98" y2="325.3" stroke="#fd7445" stroke-width="1.45"/>
<line x1="335.98" y1="325.3" x2="340.23" y2="314.8" stroke="#fc8055" stroke-width="1.45"/>
<line x1="340.23" y1="314.8" x2="344.48" y2="300.8" stroke="#fd7749" stroke-width="1.45"/>
<line x1="344.48" y1="300.8" x2="348.73" y2="291.7" stroke="#fe6b39" stroke-width="1.45"/>
<line x1="348.73" y1="291.7" x2="352.98" y2="293.8" stroke="#ff632f" stroke-width="1.45"/>
<line x1="352.98" y1="293.8" x2="357.22" y2="330.9" stroke="#fe6531" stroke-width="1.45"/>
<line x1="357.22" y1="330.9" x2="361.47" y2="315.5" stroke="#fb845b" stroke-width="1.45"/>
<line x1="361.47" y1="315.5" x2="365.72" y2="285.4" stroke="#fd784a" stroke-width="1.45"/>
<line x1="365.72" y1="285.4" x2="369.97" y2="281.2" stroke="#ff5d27" stroke-width="1.45"/>
<line x1="369.97" y1="281.2" x2="374.22" y2="284.7" stroke="#ff5921" stroke-width="1.45"/>
<line x1="374.22" y1="284.7" x2="378.47" y2="300.1" stroke="#ff5c26" stroke-width="1.45"/>
<line x1="378.47" y1="300.1" x2="382.72" y2="281.2" stroke="#fe6b39" stroke-width="1.45"/>
<line x1="382.72" y1="281.2" x2="386.97" y2="309.2" stroke="#ff5921" stroke-width="1.45"/>
<line x1="386.97" y1="309.2" x2="391.22" y2="314.1" stroke="#fd7343" stroke-width="1.45"/>
<line x1="391.22" y1="314.1" x2="395.46" y2="316.2" stroke="#fd7748" stroke-width="1.45"/>
<line x1="395.46" y1="316.2" x2="399.71" y2="333" stroke="#fd784b" stroke-width="1.45"/>
<line x1="399.71" y1="333" x2="403.96" y2="335.8" stroke="#fb865d" stroke-width="1.45"/>
<line x1="403.96" y1="335.8" x2="408.21" y2="344.2" stroke="#fa8860" stroke-width="1.45"/>
<line x1="408.21" y1="344.2" x2="412.46" y2="331.6" stroke="#f98f69" stroke-width="1.45"/>
<line x1="412.46" y1="331.6" x2="416.71" y2="312.7" stroke="#fb855c" stroke-width="1.45"/>
<line x1="416.71" y1="312.7" x2="420.96" y2="340" stroke="#fd7647" stroke-width="1.45"/>
<line x1="420.96" y1="340" x2="425.21" y2="337.9" stroke="#fa8c65" stroke-width="1.45"/>
<line x1="425.21" y1="337.9" x2="429.46" y2="295.9" stroke="#fa8a62" stroke-width="1.45"/>
<line x1="429.46" y1="295.9" x2="433.7" y2="299.4" stroke="#fe6734" stroke-width="1.45"/>
<line x1="433.7" y1="299.4" x2="437.95" y2="312" stroke="#fe6a38" stroke-width="1.45"/>
<line x1="437.95" y1="312" x2="442.2" y2="287.5" stroke="#fd7546" stroke-width="1.45"/>
<line x1="442.2" y1="287.5" x2="446.45" y2="298" stroke="#ff5f2a" stroke-width="1.45"/>
<line x1="446.45" y1="298" x2="450.7" y2="289.6" stroke="#fe6936" stroke-width="1.45"/>
<line x1="450.7" y1="289.6" x2="454.95" y2="282.6" stroke="#ff612c" stroke-width="1.45"/>
<line x1="454.95" y1="282.6" x2="459.2" y2="293.1" stroke="#ff5a23" stroke-width="1.45"/>
<line x1="459.2" y1="293.1" x2="463.45" y2="315.5" stroke="#ff6430" stroke-width="1.45"/>
<line x1="463.45" y1="315.5" x2="467.7" y2="339.3" stroke="#fd784a" stroke-width="1.45"/>
<line x1="467.7" y1="339.3" x2="471.94" y2="345.6" stroke="#fa8b64" stroke-width="1.45"/>
<line x1="471.94" y1="345.6" x2="476.19" y2="343.5" stroke="#f9906b" stroke-width="1.45"/>
<line x1="476.19" y1="343.5" x2="480.44" y2="343.5" stroke="#f98e68" stroke-width="1.45"/>
<line x1="480.44" y1="343.5" x2="484.69" y2="290.3" stroke="#f98e68" stroke-width="1.45"/>
<line x1="484.69" y1="290.3" x2="488.94" y2="307.1" stroke="#ff622d" stroke-width="1.45"/>
<line x1="488.94" y1="307.1" x2="493.19" y2="323.2" stroke="#fe7141" stroke-width="1.45"/>
<line x1="493.19" y1="323.2" x2="497.44" y2="330.9" stroke="#fc7e52" stroke-width="1.45"/>
<line x1="505.93" y1="345.6" x2="510.18" y2="326.7" stroke="#f9906b" stroke-width="1.45"/>
<line x1="510.18" y1="326.7" x2="514.43" y2="315.5" stroke="#fc8156" stroke-width="1.45"/>
<line x1="514.43" y1="315.5" x2="518.68" y2="326" stroke="#fd784a" stroke-width="1.45"/>
<line x1="518.68" y1="326" x2="522.93" y2="301.5" stroke="#fc8155" stroke-width="1.45"/>
<line x1="522.93" y1="301.5" x2="527.18" y2="320.4" stroke="#fe6c3a" stroke-width="1.45"/>
<line x1="527.18" y1="320.4" x2="531.43" y2="355.4" stroke="#fc7c4f" stroke-width="1.45"/>
<line x1="531.43" y1="355.4" x2="535.68" y2="340" stroke="#f69775" stroke-width="1.45"/>
<line x1="535.68" y1="340" x2="539.93" y2="347.7" stroke="#fa8c65" stroke-width="1.45"/>
<line x1="539.93" y1="347.7" x2="544.17" y2="316.9" stroke="#f8916d" stroke-width="1.45"/>
<line x1="544.17" y1="316.9" x2="548.42" y2="301.5" stroke="#fd794c" stroke-width="1.45"/>
<line x1="548.42" y1="301.5" x2="552.67" y2="317.6" stroke="#fe6c3a" stroke-width="1.45"/>
<line x1="552.67" y1="317.6" x2="556.92" y2="313.4" stroke="#fd7a4c" stroke-width="1.45"/>
<line x1="556.92" y1="313.4" x2="561.17" y2="357.5" stroke="#fd7648" stroke-width="1.45"/>
<line x1="561.17" y1="357.5" x2="565.42" y2="365.9" stroke="#f69978" stroke-width="1.45"/>
<line x1="565.42" y1="365.9" x2="569.67" y2="355.4" stroke="#f49f81" stroke-width="1.45"/>
<line x1="569.67" y1="355.4" x2="573.92" y2="340" stroke="#f69775" stroke-width="1.45"/>
<line x1="573.92" y1="340" x2="578.17" y2="333" stroke="#fa8c65" stroke-width="1.45"/>
<line x1="578.17" y1="333" x2="582.41" y2="347" stroke="#fb865d" stroke-width="1.45"/>
<line x1="582.41" y1="347" x2="586.66" y2="365.9" stroke="#f8916c" stroke-width="1.45"/>
<line x1="586.66" y1="365.9" x2="590.91" y2="347.7" stroke="#f49f81" stroke-width="1.45"/>
<line x1="590.91" y1="347.7" x2="595.16" y2="316.2" stroke="#f8916d" stroke-width="1.45"/>
<line x1="595.16" y1="316.2" x2="599.41" y2="336.5" stroke="#fd784b" stroke-width="1.45"/>
<line x1="599.41" y1="336.5" x2="603.66" y2="362.4" stroke="#fa8961" stroke-width="1.45"/>
<line x1="603.66" y1="362.4" x2="607.91" y2="359.6" stroke="#f59c7d" stroke-width="1.45"/>
<line x1="607.91" y1="359.6" x2="612.16" y2="377.1" stroke="#f69a7a" stroke-width="1.45"/>
<line x1="620.65" y1="361.7" x2="624.9" y2="360.3" stroke="#f59c7c" stroke-width="1.45"/>
<line x1="624.9" y1="360.3" x2="629.15" y2="324.25" stroke="#f59b7b" stroke-width="1.45"/>
<line x1="629.15" y1="324.25" x2="633.4" y2="380.6" stroke="#fc7f54" stroke-width="1.45"/>
<line x1="633.4" y1="380.6" x2="637.65" y2="360.3" stroke="#f0aa91" stroke-width="1.45"/>
<line x1="637.65" y1="360.3" x2="641.9" y2="313.4" stroke="#f59b7b" stroke-width="1.45"/>
<line x1="641.9" y1="313.4" x2="646.15" y2="299.4" stroke="#fd7648" stroke-width="1.45"/>
<line x1="646.15" y1="299.4" x2="650.4" y2="305.7" stroke="#fe6a38" stroke-width="1.45"/>
<line x1="650.4" y1="305.7" x2="654.65" y2="359.6" stroke="#fe703f" stroke-width="1.45"/>
<circle cx="55.55" cy="428.9" r="4.05" fill="#daccc7"/>
<circle cx="59.8" cy="438" r="4.05" fill="#d4d2d1"/>
<circle cx="64.05" cy="431.7" r="4.05" fill="#d8ceca"/>
<circle cx="68.3" cy="438" r="4.05" fill="#d4d2d1"/>
<circle cx="72.55" cy="407.9" r="4.05" fill="#e5bdaf"/>
<circle cx="76.8" cy="377.8" r="4.05" fill="#f0a88e"/>
<circle cx="81.05" cy="389" r="4.05" fill="#edb09a"/>
<circle cx="85.3" cy="424" r="4.05" fill="#ddc8c1"/>
<circle cx="89.55" cy="439.4" r="4.05" fill="#d3d3d3"/>
<circle cx="93.79" cy="434.5" r="4.05" fill="#d6d0cd"/>
<circle cx="98.04" cy="421.9" r="4.05" fill="#dec7bf"/>
<circle cx="102.29" cy="421.2" r="4.05" fill="#dec6be"/>
<circle cx="106.54" cy="405.1" r="4.05" fill="#e6bbac"/>
<circle cx="110.79" cy="375" r="4.05" fill="#f1a68b"/>
<circle cx="115.04" cy="382.7" r="4.05" fill="#efab93"/>
<circle cx="119.29" cy="401.6" r="4.05" fill="#e8b9a8"/>
<circle cx="123.54" cy="392.5" r="4.05" fill="#ebb29e"/>
<circle cx="127.79" cy="393.9" r="4.05" fill="#ebb3a0"/>
<circle cx="132.03" cy="381.3" r="4.05" fill="#efaa92"/>
<circle cx="136.28" cy="344.9" r="4.05" fill="#f98f6a"/>
<circle cx="140.53" cy="314.8" r="4.05" fill="#fd7749"/>
<circle cx="144.78" cy="331.6" r="4.05" fill="#fb855c"/>
<circle cx="149.03" cy="361.7" r="4.05" fill="#f59c7c"/>
<circle cx="153.28" cy="344.2" r="4.05" fill="#f98f69"/>
<circle cx="157.53" cy="382" r="4.05" fill="#efab92"/>
<circle cx="161.78" cy="403" r="4.05" fill="#e7baaa"/>
<circle cx="166.03" cy="394.6" r="4.05" fill="#ebb4a0"/>
<circle cx="170.27" cy="356.8" r="4.05" fill="#f69877"/>
<circle cx="174.52" cy="372.2" r="4.05" fill="#f2a488"/>
<circle cx="178.77" cy="376.75" r="4.05" fill="#f1a78d"/>
<circle cx="183.02" cy="405.1" r="4.05" fill="#e6bbac"/>
<circle cx="187.27" cy="413.5" r="4.05" fill="#e2c1b6"/>
<circle cx="191.52" cy="363.1" r="4.05" fill="#f59d7e"/>
<circle cx="195.77" cy="375.7" r="4.05" fill="#f1a68c"/>
<circle cx="200.02" cy="379.2" r="4.05" fill="#f0a98f"/>
<circle cx="204.27" cy="372.55" r="4.05" fill="#f2a488"/>
<circle cx="208.51" cy="373.6" r="4.05" fill="#f2a589"/>
<circle cx="212.76" cy="373.6" r="4.05" fill="#f2a589"/>
<circle cx="217.01" cy="370.1" r="4.05" fill="#f3a285"/>
<circle cx="221.26" cy="349.1" r="4.05" fill="#f8936f"/>
<circle cx="225.51" cy="356.1" r="4.05" fill="#f69876"/>
<circle cx="229.76" cy="364.5" r="4.05" fill="#f49e7f"/>
<circle cx="234.01" cy="363.8" r="4.05" fill="#f49d7f"/>
<circle cx="238.26" cy="330.9" r="4.05" fill="#fb845b"/>
<circle cx="242.5" cy="316.9" r="4.05" fill="#fd794c"/>
<circle cx="246.75" cy="371.5" r="4.05" fill="#f2a387"/>
<circle cx="251" cy="355.4" r="4.05" fill="#f69775"/>
<circle cx="255.25" cy="337.9" r="4.05" fill="#fa8a62"/>
<circle cx="259.5" cy="307.1" r="4.05" fill="#fe7141"/>
<circle cx="263.75" cy="263.35" r="4.05" fill="#ff4500"/>
<circle cx="268" cy="275.6" r="4.05" fill="#ff5319"/>
<circle cx="272.25" cy="334.4" r="4.05" fill="#fa875f"/>
<circle cx="276.5" cy="326" r="4.05" fill="#fc8155"/>
<circle cx="280.74" cy="338.6" r="4.05" fill="#fa8a63"/>
<circle cx="284.99" cy="351.9" r="4.05" fill="#f79572"/>
<circle cx="289.24" cy="353.3" r="4.05" fill="#f79673"/>
<circle cx="293.49" cy="323.9" r="4.05" fill="#fc7f53"/>
<circle cx="297.74" cy="338.6" r="4.05" fill="#fa8a63"/>
<circle cx="301.99" cy="352.6" r="4.05" fill="#f79572"/>
<circle cx="306.24" cy="343.5" r="4.05" fill="#f98e68"/>
<circle cx="310.49" cy="321.8" r="4.05" fill="#fc7d51"/>
<circle cx="314.74" cy="346.3" r="4.05" fill="#f8906c"/>
<circle cx="318.98" cy="335.8" r="4.05" fill="#fa8860"/>
<circle cx="323.23" cy="324.6" r="4.05" fill="#fc7f54"/>
<circle cx="327.48" cy="328.8" r="4.05" fill="#fb8359"/>
<circle cx="331.73" cy="311.3" r="4.05" fill="#fd7445"/>
<circle cx="335.98" cy="325.3" r="4.05" fill="#fc8055"/>
<circle cx="340.23" cy="314.8" r="4.05" fill="#fd7749"/>
<circle cx="344.48" cy="300.8" r="4.05" fill="#fe6b39"/>
<circle cx="348.73" cy="291.7" r="4.05" fill="#ff632f"/>
<circle cx="352.98" cy="293.8" r="4.05" fill="#fe6531"/>
<circle cx="357.22" cy="330.9" r="4.05" fill="#fb845b"/>
<circle cx="361.47" cy="315.5" r="4.05" fill="#fd784a"/>
<circle cx="365.72" cy="285.4" r="4.05" fill="#ff5d27"/>
<circle cx="369.97" cy="281.2" r="4.05" fill="#ff5921"/>
<circle cx="374.22" cy="284.7" r="4.05" fill="#ff5c26"/>
<circle cx="378.47" cy="300.1" r="4.05" fill="#fe6b39"/>
<circle cx="382.72" cy="281.2" r="4.05" fill="#ff5921"/>
<circle cx="386.97" cy="309.2" r="4.05" fill="#fd7343"/>
<circle cx="391.22" cy="314.1" r="4.05" fill="#fd7748"/>
<circle cx="395.46" cy="316.2" r="4.05" fill="#fd784b"/>
<circle cx="399.71" cy="333" r="4.05" fill="#fb865d"/>
<circle cx="403.96" cy="335.8" r="4.05" fill="#fa8860"/>
<circle cx="408.21" cy="344.2" r="4.05" fill="#f98f69"/>
<circle cx="412.46" cy="331.6" r="4.05" fill="#fb855c"/>
<circle cx="416.71" cy="312.7" r="4.05" fill="#fd7647"/>
<circle cx="420.96" cy="340" r="4.05" fill="#fa8c65"/>
<circle cx="425.21" cy="337.9" r="4.05" fill="#fa8a62"/>
<circle cx="429.46" cy="295.9" r="4.05" fill="#fe6734"/>
<circle cx="433.7" cy="299.4" r="4.05" fill="#fe6a38"/>
<circle cx="437.95" cy="312" r="4.05" fill="#fd7546"/>
<circle cx="442.2" cy="287.5" r="4.05" fill="#ff5f2a"/>
<circle cx="446.45" cy="298" r="4.05" fill="#fe6936"/>
<circle cx="450.7" cy="289.6" r="4.05" fill="#ff612c"/>
<circle cx="454.95" cy="282.6" r="4.05" fill="#ff5a23"/>
<circle cx="459.2" cy="293.1" r="4.05" fill="#ff6430"/>
<circle cx="463.45" cy="315.5" r="4.05" fill="#fd784a"/>
<circle cx="467.7" cy="339.3" r="4.05" fill="#fa8b64"/>
<circle cx="471.94" cy="345.6" r="4.05" fill="#f9906b"/>
<circle cx="476.19" cy="343.5" r="4.05" fill="#f98e68"/>
<circle cx="480.44" cy="343.5" r="4.05" fill="#f98e68"/>
<circle cx="484.69" cy="290.3" r="4.05" fill="#ff622d"/>
<circle cx="488.94" cy="307.1" r="4.05" fill="#fe7141"/>
<circle cx="493.19" cy="323.2" r="4.05" fill="#fc7e52"/>
<circle cx="497.44" cy="330.9" r="4.05" fill="#fb845b"/>
<circle cx="505.93" cy="345.6" r="4.05" fill="#f9906b"/>
<circle cx="510.18" cy="326.7" r="4.05" fill="#fc8156"/>
<circle cx="514.43" cy="315.5" r="4.05" fill="#fd784a"/>
<circle cx="518.68" cy="326" r="4.05" fill="#fc8155"/>
<circle cx="522.93" cy="301.5" r="4.05" fill="#fe6c3a"/>
<circle cx="527.18" cy="320.4" r="4.05" fill="#fc7c4f"/>
<circle cx="531.43" cy="355.4" r="4.05" fill="#f69775"/>
<circle cx="535.68" cy="340" r="4.05" fill="#fa8c65"/>
<circle cx="539.93" cy="347.7" r="4.05" fill="#f8916d"/>
<circle cx="544.17" cy="316.9" r="4.05" fill="#fd794c"/>
<circle cx="548.42" cy="301.5" r="4.05" fill="#fe6c3a"/>
<circle cx="552.67" cy="317.6" r="4.05" fill="#fd7a4c"/>
<circle cx="556.92" cy="313.4" r="4.05" fill="#fd7648"/>
<circle cx="561.17" cy="357.5" r="4.05" fill="#f69978"/>
<circle cx="565.42" cy="365.9" r="4.05" fill="#f49f81"/>
<circle cx="569.67" cy="355.4" r="4.05" fill="#f69775"/>
<circle cx="573.92" cy="340" r="4.05" fill="#fa8c65"/>
<circle cx="578.17" cy="333" r="4.05" fill="#fb865d"/>
<circle cx="582.41" cy="347" r="4.05" fill="#f8916c"/>
<circle cx="586.66" cy="365.9" r="4.05" fill="#f49f81"/>
<circle cx="590.91" cy="347.7" r="4.05" fill="#f8916d"/>
<circle cx="595.16" cy="316.2" r="4.05" fill="#fd784b"/>
<circle cx="599.41" cy="336.5" r="4.05" fill="#fa8961"/>
<circle cx="603.66" cy="362.4" r="4.05" fill="#f59c7d"/>
<circle cx="607.91" cy="359.6" r="4.05" fill="#f69a7a"/>
<circle cx="612.16" cy="377.1" r="4.05" fill="#f1a78d"/>
<circle cx="620.65" cy="361.7" r="4.05" fill="#f59c7c"/>
<circle cx="624.9" cy="360.3" r="4.05" fill="#f59b7b"/>
<circle cx="629.15" cy="324.25" r="4.05" fill="#fc7f54"/>
<circle cx="633.4" cy="380.6" r="4.05" fill="#f0aa91"/>
<circle cx="637.65" cy="360.3" r="4.05" fill="#f59b7b"/>
<circle cx="641.9" cy="313.4" r="4.05" fill="#fd7648"/>
<circle cx="646.15" cy="299.4" r="4.05" fill="#fe6a38"/>
<circle cx="650.4" cy="305.7" r="4.05" fill="#fe703f"/>
<circle cx="654.65" cy="359.6" r="4.05" fill="#f69a7a"/>
<rect x="140.53" y="243.4" width="17" height="231" fill="rgba(190,190,190,0.4)"/>
<rect x="263.75" y="243.4" width="17" height="231" fill="rgba(255,0,0,0.2)"/>
<rect x="318.98" y="243.4" width="17" height="231" fill="rgba(190,190,190,0.4)"/>
<rect x="518.68" y="243.4" width="17" height="231" fill="rgba(190,190,190,0.4)"/>
<rect x="637.65" y="243.4" width="17" height="231" fill="rgba(190,190,190,0.4)"/>
<text transform="translate(151.83,463.6) rotate(-90)" font-size="8.0" fill="#000">May</text>
<text transform="translate(275.05,463.6) rotate(-90)" font-size="8.0" fill="#000">June</text>
<text transform="translate(330.28,463.6) rotate(-90)" font-size="8.0" fill="#000">July</text>
<text transform="translate(529.98,463.6) rotate(-90)" font-size="8.0" fill="#000">Aug</text>
<text transform="translate(648.95,463.6) rotate(-90)" font-size="8.0" fill="#000">Sept</text>
</g>
<rect x="25.6" y="243.4" width="659" height="231" fill="none" stroke="#5a5a5a" stroke-width="1"/>
<line x1="22.9" y1="463.9" x2="25.6" y2="463.9" stroke="#333333" stroke-width="1"/>
<text x="21.4" y="466.95" font-size="8.4" fill="#4d4d4d" text-anchor="end">0</text>
<line x1="22.9" y1="428.9" x2="25.6" y2="428.9" stroke="#333333" stroke-width="1"/>
<text x="21.4" y="431.95" font-size="8.4" fill="#4d4d4d" text-anchor="end">5</text>
<line x1="22.9" y1="393.9" x2="25.6" y2="393.9" stroke="#333333" stroke-width="1"/>
<text x="21.4" y="396.95" font-size="8.4" fill="#4d4d4d" text-anchor="end">10</text>
<line x1="22.9" y1="358.9" x2="25.6" y2="358.9" stroke="#333333" stroke-width="1"/>
<text x="21.4" y="361.95" font-size="8.4" fill="#4d4d4d" text-anchor="end">15</text>
<line x1="22.9" y1="323.9" x2="25.6" y2="323.9" stroke="#333333" stroke-width="1"/>
<text x="21.4" y="326.95" font-size="8.4" fill="#4d4d4d" text-anchor="end">20</text>
<line x1="22.9" y1="288.9" x2="25.6" y2="288.9" stroke="#333333" stroke-width="1"/>
<text x="21.4" y="291.95" font-size="8.4" fill="#4d4d4d" text-anchor="end">25</text>
<line x1="22.9" y1="253.9" x2="25.6" y2="253.9" stroke="#333333" stroke-width="1"/>
<text x="21.4" y="256.95" font-size="8.4" fill="#4d4d4d" text-anchor="end">30</text>
<line x1="55.55" y1="474.4" x2="55.55" y2="477.1" stroke="#333333" stroke-width="1"/>
<text x="55.55" y="484.9" font-size="8.4" fill="#4d4d4d" text-anchor="middle">122</text>
<line x1="76.8" y1="474.4" x2="76.8" y2="477.1" stroke="#333333" stroke-width="1"/>
<text x="76.8" y="484.9" font-size="8.4" fill="#4d4d4d" text-anchor="middle">127</text>
<line x1="98.04" y1="474.4" x2="98.04" y2="477.1" stroke="#333333" stroke-width="1"/>
<text x="98.04" y="484.9" font-size="8.4" fill="#4d4d4d" text-anchor="middle">132</text>
<line x1="119.29" y1="474.4" x2="119.29" y2="477.1" stroke="#333333" stroke-width="1"/>
<text x="119.29" y="484.9" font-size="8.4" fill="#4d4d4d" text-anchor="middle">137</text>
<line x1="140.53" y1="474.4" x2="140.53" y2="477.1" stroke="#333333" stroke-width="1"/>
<text x="140.53" y="484.9" font-size="8.4" fill="#4d4d4d" text-anchor="middle">142</text>
<line x1="161.78" y1="474.4" x2="161.78" y2="477.1" stroke="#333333" stroke-width="1"/>
<text x="161.78" y="484.9" font-size="8.4" fill="#4d4d4d" text-anchor="middle">147</text>
<line x1="183.02" y1="474.4" x2="183.02" y2="477.1" stroke="#333333" stroke-width="1"/>
<text x="183.02" y="484.9" font-size="8.4" fill="#4d4d4d" text-anchor="middle">152</text>
<line x1="204.27" y1="474.4" x2="204.27" y2="477.1" stroke="#333333" stroke-width="1"/>
<text x="204.27" y="484.9" font-size="8.4" fill="#4d4d4d" text-anchor="middle">157</text>
<line x1="225.51" y1="474.4" x2="225.51" y2="477.1" stroke="#333333" stroke-width="1"/>
<text x="225.51" y="484.9" font-size="8.4" fill="#4d4d4d" text-anchor="middle">162</text>
<line x1="246.75" y1="474.4" x2="246.75" y2="477.1" stroke="#333333" stroke-width="1"/>
<text x="246.75" y="484.9" font-size="8.4" fill="#4d4d4d" text-anchor="middle">167</text>
<line x1="268" y1="474.4" x2="268" y2="477.1" stroke="#333333" stroke-width="1"/>
<text x="268" y="484.9" font-size="8.4" fill="#4d4d4d" text-anchor="middle">172</text>
<line x1="289.24" y1="474.4" x2="289.24" y2="477.1" stroke="#333333" stroke-width="1"/>
<text x="289.24" y="484.9" font-size="8.4" fill="#4d4d4d" text-anchor="middle">177</text>
<line x1="310.49" y1="474.4" x2="310.49" y2="477.1" stroke="#333333" stroke-width="1"/>
<text x="310.49" y="484.9" font-size="8.4" fill="#4d4d4d" text-anchor="middle">182</text>
<line x1="331.73" y1="474.4" x2="331.73" y2="477.1" stroke="#333333" stroke-width="1"/>
<text x="331.73" y="484.9" font-size="8.4" fill="#4d4d4d" text-anchor="middle">187</text>
<line x1="352.98" y1="474.4" x2="352.98" y2="477.1" stroke="#333333" stroke-width="1"/>
<text x="352.98" y="484.9" font-size="8.4" fill="#4d4d4d" text-anchor="middle">192</text>
<line x1="374.22" y1="474.4" x2="374.22" y2="477.1" stroke="#333333" stroke-width="1"/>
<text x="374.22" y="484.9" font-size="8.4" fill="#4d4d4d" text-anchor="middle">197</text>
<line x1="395.46" y1="474.4" x2="395.46" y2="477.1" stroke="#333333" stroke-width="1"/>
<text x="395.46" y="484.9" font-size="8.4" fill="#4d4d4d" text-anchor="middle">202</text>
<line x1="416.71" y1="474.4" x2="416.71" y2="477.1" stroke="#333333" stroke-width="1"/>
<text x="416.71" y="484.9" font-size="8.4" fill="#4d4d4d" text-anchor="middle">207</text>
<line x1="437.95" y1="474.4" x2="437.95" y2="477.1" stroke="#333333" stroke-width="1"/>
<text x="437.95" y="484.9" font-size="8.4" fill="#4d4d4d" text-anchor="middle">212</text>
<line x1="459.2" y1="474.4" x2="459.2" y2="477.1" stroke="#333333" stroke-width="1"/>
<text x="459.2" y="484.9" font-size="8.4" fill="#4d4d4d" text-anchor="middle">217</text>
<line x1="480.44" y1="474.4" x2="480.44" y2="477.1" stroke="#333333" stroke-width="1"/>
<text x="480.44" y="484.9" font-size="8.4" fill="#4d4d4d" text-anchor="middle">222</text>
<line x1="501.69" y1="474.4" x2="501.69" y2="477.1" stroke="#333333" stroke-width="1"/>
<text x="501.69" y="484.9" font-size="8.4" fill="#4d4d4d" text-anchor="middle">227</text>
<line x1="522.93" y1="474.4" x2="522.93" y2="477.1" stroke="#333333" stroke-width="1"/>
<text x="522.93" y="484.9" font-size="8.4" fill="#4d4d4d" text-anchor="middle">232</text>
<line x1="544.17" y1="474.4" x2="544.17" y2="477.1" stroke="#333333" stroke-width="1"/>
<text x="544.17" y="484.9" font-size="8.4" fill="#4d4d4d" text-anchor="middle">237</text>
<line x1="565.42" y1="474.4" x2="565.42" y2="477.1" stroke="#333333" stroke-width="1"/>
<text x="565.42" y="484.9" font-size="8.4" fill="#4d4d4d" text-anchor="middle">242</text>
<line x1="586.66" y1="474.4" x2="586.66" y2="477.1" stroke="#333333" stroke-width="1"/>
<text x="586.66" y="484.9" font-size="8.4" fill="#4d4d4d" text-anchor="middle">247</text>
<line x1="607.91" y1="474.4" x2="607.91" y2="477.1" stroke="#333333" stroke-width="1"/>
<text x="607.91" y="484.9" font-size="8.4" fill="#4d4d4d" text-anchor="middle">252</text>
<line x1="629.15" y1="474.4" x2="629.15" y2="477.1" stroke="#333333" stroke-width="1"/>
<text x="629.15" y="484.9" font-size="8.4" fill="#4d4d4d" text-anchor="middle">257</text>
<line x1="650.4" y1="474.4" x2="650.4" y2="477.1" stroke="#333333" stroke-width="1"/>
<text x="650.4" y="484.9" font-size="8.4" fill="#4d4d4d" text-anchor="middle">262</text>
<text transform="translate(7.1,358.9) rotate(-90)" font-size="9.7" fill="#000" text-anchor="middle">Mean air temp (°C)</text>
<text x="355.1" y="495.8" font-size="9.7" fill="#000" text-anchor="middle">Julian date</text>
<circle cx="58.9" cy="648.84" r="2.5" fill="#bebebe" fill-opacity="0.3"/>
<circle cx="57.3" cy="657.59" r="2.5" fill="#bebebe" fill-opacity="0.3"/>
<circle cx="52.9" cy="665.47" r="2.5" fill="#bebebe" fill-opacity="0.3"/>
<circle cx="53.3" cy="696.11" r="2.5" fill="#bebebe" fill-opacity="0.3"/>
<circle cx="111.7" cy="598.5" r="2.5" fill="#ff4500" fill-opacity="0.3"/>
<circle cx="119.3" cy="594.12" r="2.5" fill="#ff4500" fill-opacity="0.3"/>
<circle cx="113.5" cy="605.07" r="2.5" fill="#ff4500" fill-opacity="0.3"/>
<circle cx="115" cy="603.32" r="2.5" fill="#ff4500" fill-opacity="0.3"/>
<circle cx="169.9" cy="628.09" r="2.5" fill="#ec8a67" fill-opacity="0.3"/>
<circle cx="172.6" cy="632.2" r="2.5" fill="#ec8a67" fill-opacity="0.3"/>
<circle cx="186.6" cy="637.46" r="2.5" fill="#ec8a67" fill-opacity="0.3"/>
<circle cx="229.9" cy="652.16" r="2.5" fill="#df9e87" fill-opacity="0.3"/>
<circle cx="239.6" cy="641.05" r="2.5" fill="#df9e87" fill-opacity="0.3"/>
<circle cx="236.4" cy="645.77" r="2.5" fill="#df9e87" fill-opacity="0.3"/>
<circle cx="294.5" cy="632.03" r="2.5" fill="#eb8d6b" fill-opacity="0.3"/>
<circle cx="296.4" cy="642.01" r="2.5" fill="#eb8d6b" fill-opacity="0.3"/>
<line x1="61.73" y1="646.21" x2="61.73" y2="687.35" stroke="#bebebe" stroke-width="1.45"/>
<line x1="55.63" y1="646.21" x2="67.83" y2="646.21" stroke="#bebebe" stroke-width="1.45"/>
<line x1="55.63" y1="687.35" x2="67.83" y2="687.35" stroke="#bebebe" stroke-width="1.45"/>
<circle cx="61.73" cy="666.87" r="4.05" fill="#bebebe"/>
<line x1="121.7" y1="596.14" x2="121.7" y2="605.42" stroke="#ff4500" stroke-width="1.45"/>
<line x1="115.6" y1="596.14" x2="127.8" y2="596.14" stroke="#ff4500" stroke-width="1.45"/>
<line x1="115.6" y1="605.42" x2="127.8" y2="605.42" stroke="#ff4500" stroke-width="1.45"/>
<circle cx="121.7" cy="600.87" r="4.05" fill="#ff4500"/>
<line x1="181.68" y1="629.58" x2="181.68" y2="637.89" stroke="#ec8a67" stroke-width="1.45"/>
<line x1="175.58" y1="629.58" x2="187.78" y2="629.58" stroke="#ec8a67" stroke-width="1.45"/>
<line x1="175.58" y1="637.89" x2="187.78" y2="637.89" stroke="#ec8a67" stroke-width="1.45"/>
<circle cx="181.68" cy="633.6" r="4.05" fill="#ec8a67"/>
<line x1="241.65" y1="642.18" x2="241.65" y2="650.85" stroke="#df9e87" stroke-width="1.45"/>
<line x1="235.55" y1="642.18" x2="247.75" y2="642.18" stroke="#df9e87" stroke-width="1.45"/>
<line x1="235.55" y1="650.85" x2="247.75" y2="650.85" stroke="#df9e87" stroke-width="1.45"/>
<circle cx="241.65" cy="646.21" r="4.05" fill="#df9e87"/>
<line x1="301.62" y1="631.07" x2="301.62" y2="639.82" stroke="#eb8d6b" stroke-width="1.45"/>
<line x1="295.52" y1="631.07" x2="307.72" y2="631.07" stroke="#eb8d6b" stroke-width="1.45"/>
<line x1="295.52" y1="639.82" x2="307.72" y2="639.82" stroke="#eb8d6b" stroke-width="1.45"/>
<circle cx="301.62" cy="635.27" r="4.05" fill="#eb8d6b"/>
<rect x="25.75" y="507.9" width="311.85" height="231.1" fill="none" stroke="#5a5a5a" stroke-width="1"/>
<line x1="23.05" y1="710.99" x2="25.75" y2="710.99" stroke="#333333" stroke-width="1"/>
<text x="21.45" y="714.04" font-size="8.4" fill="#4d4d4d" text-anchor="end">20</text>
<line x1="23.05" y1="667.22" x2="25.75" y2="667.22" stroke="#333333" stroke-width="1"/>
<text x="21.45" y="670.27" font-size="8.4" fill="#4d4d4d" text-anchor="end">25</text>
<line x1="23.05" y1="623.45" x2="25.75" y2="623.45" stroke="#333333" stroke-width="1"/>
<text x="21.45" y="626.5" font-size="8.4" fill="#4d4d4d" text-anchor="end">30</text>
<line x1="23.05" y1="579.68" x2="25.75" y2="579.68" stroke="#333333" stroke-width="1"/>
<text x="21.45" y="582.73" font-size="8.4" fill="#4d4d4d" text-anchor="end">35</text>
<line x1="23.05" y1="535.91" x2="25.75" y2="535.91" stroke="#333333" stroke-width="1"/>
<text x="21.45" y="538.96" font-size="8.4" fill="#4d4d4d" text-anchor="end">40</text>
<line x1="61.73" y1="739" x2="61.73" y2="741.7" stroke="#333333" stroke-width="1"/>
<text x="61.73" y="749.7" font-size="8.4" fill="#4d4d4d" text-anchor="middle">May</text>
<line x1="121.7" y1="739" x2="121.7" y2="741.7" stroke="#333333" stroke-width="1"/>
<text x="121.7" y="749.7" font-size="8.4" fill="#4d4d4d" text-anchor="middle">June</text>
<line x1="181.68" y1="739" x2="181.68" y2="741.7" stroke="#333333" stroke-width="1"/>
<text x="181.68" y="749.7" font-size="8.4" fill="#4d4d4d" text-anchor="middle">July</text>
<line x1="241.65" y1="739" x2="241.65" y2="741.7" stroke="#333333" stroke-width="1"/>
<text x="241.65" y="749.7" font-size="8.4" fill="#4d4d4d" text-anchor="middle">Aug</text>
<line x1="301.62" y1="739" x2="301.62" y2="741.7" stroke="#333333" stroke-width="1"/>
<text x="301.62" y="749.7" font-size="8.4" fill="#4d4d4d" text-anchor="middle">Sept</text>
<text transform="translate(7.1,623.45) rotate(-90)" font-size="9.7" fill="#000" text-anchor="middle">Air temperature (°C)</text>
<text x="181.68" y="760.9" font-size="9.7" fill="#000" text-anchor="middle">Trial</text>
<circle cx="423.9" cy="623.45" r="2.5" fill="#bebebe" fill-opacity="0.3"/>
<circle cx="420.1" cy="658.47" r="2.5" fill="#bebebe" fill-opacity="0.3"/>
<circle cx="406.1" cy="631.59" r="2.5" fill="#bebebe" fill-opacity="0.3"/>
<circle cx="410.1" cy="631.59" r="2.5" fill="#bebebe" fill-opacity="0.3"/>
<circle cx="481" cy="527.16" r="2.5" fill="#ff4500" fill-opacity="0.3"/>
<circle cx="453.4" cy="544.67" r="2.5" fill="#ff4500" fill-opacity="0.3"/>
<circle cx="475.7" cy="544.67" r="2.5" fill="#ff4500" fill-opacity="0.3"/>
<circle cx="466.9" cy="534.16" r="2.5" fill="#ff4500" fill-opacity="0.3"/>
<circle cx="522.9" cy="614" r="2.5" fill="#d1aea2" fill-opacity="0.3"/>
<circle cx="514.7" cy="623.1" r="2.5" fill="#d1aea2" fill-opacity="0.3"/>
<circle cx="534.8" cy="622.84" r="2.5" fill="#d1aea2" fill-opacity="0.3"/>
<circle cx="576.5" cy="579.68" r="2.5" fill="#f0815a" fill-opacity="0.3"/>
<circle cx="580" cy="579.68" r="2.5" fill="#f0815a" fill-opacity="0.3"/>
<circle cx="595.9" cy="579.68" r="2.5" fill="#f0815a" fill-opacity="0.3"/>
<circle cx="603.5" cy="579.68" r="2.5" fill="#f0815a" fill-opacity="0.3"/>
<circle cx="642.3" cy="588.43" r="2.5" fill="#ea8e6d" fill-opacity="0.3"/>
<circle cx="655.3" cy="588.43" r="2.5" fill="#ea8e6d" fill-opacity="0.3"/>
<circle cx="662.7" cy="597.19" r="2.5" fill="#ea8e6d" fill-opacity="0.3"/>
<line x1="408.54" y1="621.26" x2="408.54" y2="651.64" stroke="#bebebe" stroke-width="1.45"/>
<line x1="402.44" y1="621.26" x2="414.64" y2="621.26" stroke="#bebebe" stroke-width="1.45"/>
<line x1="402.44" y1="651.64" x2="414.64" y2="651.64" stroke="#bebebe" stroke-width="1.45"/>
<circle cx="408.54" cy="636.58" r="4.05" fill="#bebebe"/>
<line x1="468.45" y1="529.78" x2="468.45" y2="546.42" stroke="#ff4500" stroke-width="1.45"/>
<line x1="462.35" y1="529.78" x2="474.55" y2="529.78" stroke="#ff4500" stroke-width="1.45"/>
<line x1="462.35" y1="546.42" x2="474.55" y2="546.42" stroke="#ff4500" stroke-width="1.45"/>
<circle cx="468.45" cy="538.01" r="4.05" fill="#ff4500"/>
<line x1="528.35" y1="616.8" x2="528.35" y2="625.9" stroke="#d1aea2" stroke-width="1.45"/>
<line x1="522.25" y1="616.8" x2="534.45" y2="616.8" stroke="#d1aea2" stroke-width="1.45"/>
<line x1="522.25" y1="625.9" x2="534.45" y2="625.9" stroke="#d1aea2" stroke-width="1.45"/>
<circle cx="528.35" cy="621.09" r="4.05" fill="#d1aea2"/>
<line x1="588.25" y1="579.68" x2="588.25" y2="579.68" stroke="#f0815a" stroke-width="1.45"/>
<line x1="582.15" y1="579.68" x2="594.35" y2="579.68" stroke="#f0815a" stroke-width="1.45"/>
<line x1="582.15" y1="579.68" x2="594.35" y2="579.68" stroke="#f0815a" stroke-width="1.45"/>
<circle cx="588.25" cy="579.68" r="4.05" fill="#f0815a"/>
<line x1="648.16" y1="586.33" x2="648.16" y2="595" stroke="#ea8e6d" stroke-width="1.45"/>
<line x1="642.06" y1="586.33" x2="654.26" y2="586.33" stroke="#ea8e6d" stroke-width="1.45"/>
<line x1="642.06" y1="595" x2="654.26" y2="595" stroke="#ea8e6d" stroke-width="1.45"/>
<circle cx="648.16" cy="590.62" r="4.05" fill="#ea8e6d"/>
<rect x="372.6" y="507.9" width="311.5" height="231.1" fill="none" stroke="#5a5a5a" stroke-width="1"/>
<line x1="369.9" y1="710.99" x2="372.6" y2="710.99" stroke="#333333" stroke-width="1"/>
<text x="368.3" y="714.04" font-size="8.4" fill="#4d4d4d" text-anchor="end">20</text>
<line x1="369.9" y1="667.22" x2="372.6" y2="667.22" stroke="#333333" stroke-width="1"/>
<text x="368.3" y="670.27" font-size="8.4" fill="#4d4d4d" text-anchor="end">25</text>
<line x1="369.9" y1="623.45" x2="372.6" y2="623.45" stroke="#333333" stroke-width="1"/>
<text x="368.3" y="626.5" font-size="8.4" fill="#4d4d4d" text-anchor="end">30</text>
<line x1="369.9" y1="579.68" x2="372.6" y2="579.68" stroke="#333333" stroke-width="1"/>
<text x="368.3" y="582.73" font-size="8.4" fill="#4d4d4d" text-anchor="end">35</text>
<line x1="369.9" y1="535.91" x2="372.6" y2="535.91" stroke="#333333" stroke-width="1"/>
<text x="368.3" y="538.96" font-size="8.4" fill="#4d4d4d" text-anchor="end">40</text>
<line x1="408.54" y1="739" x2="408.54" y2="741.7" stroke="#333333" stroke-width="1"/>
<text x="408.54" y="749.7" font-size="8.4" fill="#4d4d4d" text-anchor="middle">May</text>
<line x1="468.45" y1="739" x2="468.45" y2="741.7" stroke="#333333" stroke-width="1"/>
<text x="468.45" y="749.7" font-size="8.4" fill="#4d4d4d" text-anchor="middle">June</text>
<line x1="528.35" y1="739" x2="528.35" y2="741.7" stroke="#333333" stroke-width="1"/>
<text x="528.35" y="749.7" font-size="8.4" fill="#4d4d4d" text-anchor="middle">July</text>
<line x1="588.25" y1="739" x2="588.25" y2="741.7" stroke="#333333" stroke-width="1"/>
<text x="588.25" y="749.7" font-size="8.4" fill="#4d4d4d" text-anchor="middle">Aug</text>
<line x1="648.16" y1="739" x2="648.16" y2="741.7" stroke="#333333" stroke-width="1"/>
<text x="648.16" y="749.7" font-size="8.4" fill="#4d4d4d" text-anchor="middle">Sept</text>
<text transform="translate(354.1,623.45) rotate(-90)" font-size="9.7" fill="#000" text-anchor="middle">Humidex (°C)</text>
<text x="528.35" y="760.9" font-size="9.7" fill="#000" text-anchor="middle">Trial</text>
</svg>
</body></html>
